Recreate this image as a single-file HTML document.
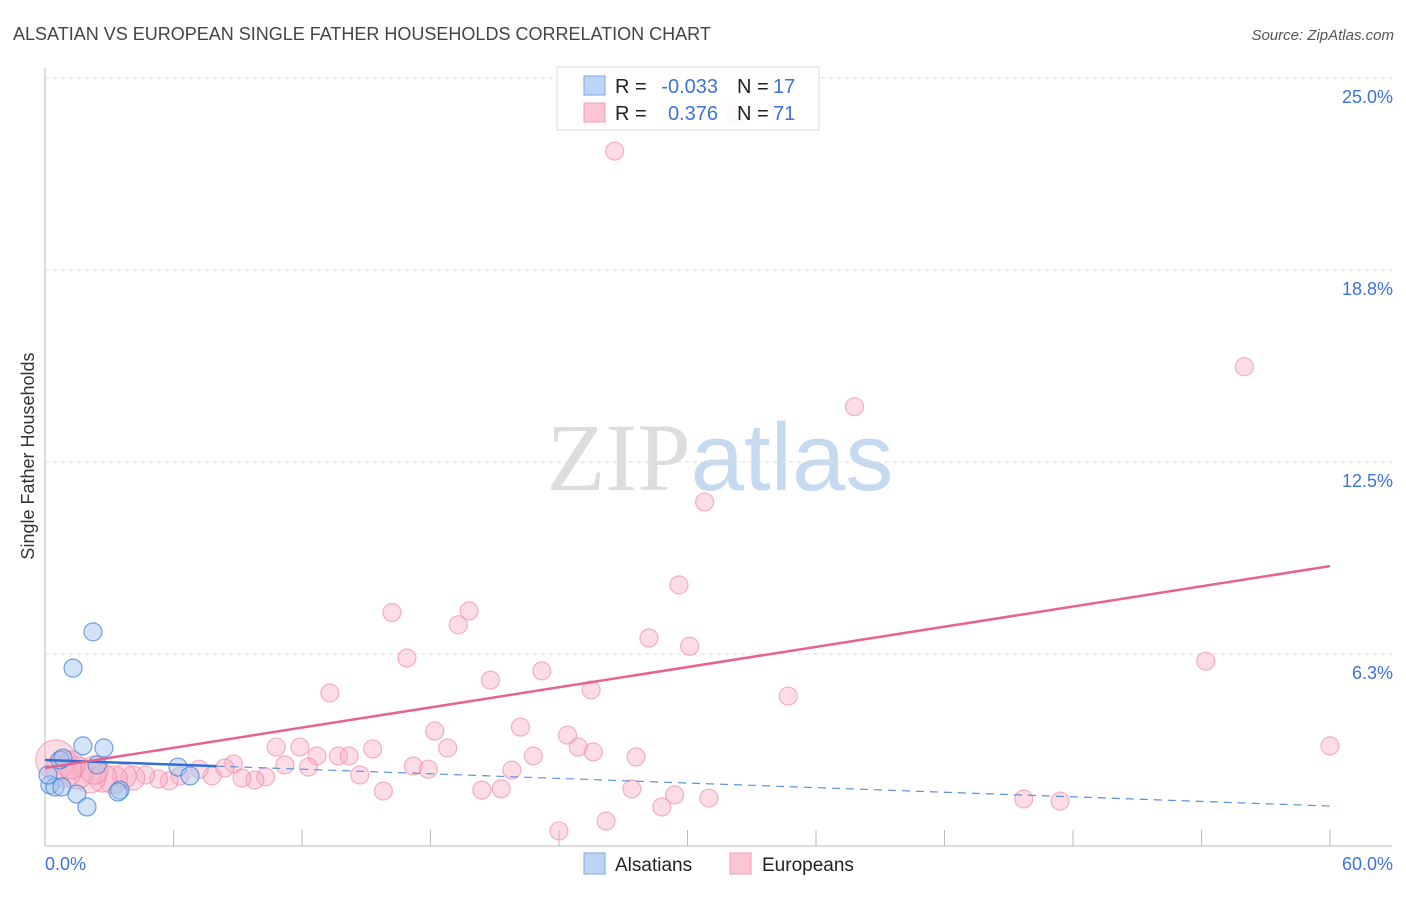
<!DOCTYPE html>
<html><head><meta charset="utf-8"><style>
body{margin:0;background:#fff;font-family:"Liberation Sans",sans-serif}
svg text{font-family:"Liberation Sans",sans-serif}
</style></head><body>
<svg id="chart" width="1406" height="892" viewBox="0 0 1406 892" xmlns="http://www.w3.org/2000/svg">
<text x="13" y="40" font-size="18" fill="#444">ALSATIAN VS EUROPEAN SINGLE FATHER HOUSEHOLDS CORRELATION CHART</text>
<text x="1394" y="40" font-size="15" fill="#555" text-anchor="end" font-style="italic">Source: ZipAtlas.com</text>
<text x="720" y="490" font-size="96" text-anchor="middle"><tspan fill="#ddd" font-family="Liberation Serif">ZIP</tspan><tspan fill="#c5daf0">atlas</tspan></text>
<g id="grid"></g>
<g id="axes"></g>
<g id="marks"></g>
<text transform="translate(34,456) rotate(-90)" font-size="18" fill="#333" text-anchor="middle">Single Father Households</text>
<g>
<rect x="557" y="67" width="262" height="63" fill="rgba(255,255,255,0.85)" stroke="#ddd"/>
<rect x="584" y="76" width="21" height="19" fill="#bcd5f5" stroke="#7aa8e6"/>
<rect x="584" y="103" width="21" height="19" fill="#fcc5d4" stroke="#f29ab3"/>
<text x="615" y="93" font-size="20" fill="#222">R =</text>
<text x="718" y="93" font-size="20" fill="#3f72d6" text-anchor="end">-0.033</text>
<text x="737" y="93" font-size="20" fill="#222">N =</text>
<text x="773" y="93" font-size="20" fill="#3f72d6">17</text>
<text x="615" y="120" font-size="20" fill="#222">R =</text>
<text x="718" y="120" font-size="20" fill="#3f72d6" text-anchor="end">0.376</text>
<text x="737" y="120" font-size="20" fill="#222">N =</text>
<text x="773" y="120" font-size="20" fill="#3f72d6">71</text>
</g>
<g>
<rect x="584" y="853" width="21" height="21" fill="#bcd5f5" stroke="#7aa8e6"/>
<text x="615" y="871" font-size="19" fill="#222">Alsatians</text>
<rect x="730" y="853" width="21" height="21" fill="#fcc5d4" stroke="#f29ab3"/>
<text x="762" y="871" font-size="19" fill="#222">Europeans</text>
</g>
</svg>
<script>
const yTicks=[25,18.75,12.5,6.25];
const yTickLabels=["25.0%","18.8%","12.5%","6.3%"];
const xTickVals=[6,12,18,24,30,36,42,48,54,60];
const blueX=[2.24,1.31,1.77,2.75,0.70,0.84,0.23,0.47,0.79,1.49,1.96,3.50,3.41,2.43,6.21,6.77,0.14];
const blueY=[6.97,5.79,3.26,3.19,2.80,2.86,1.99,1.92,1.92,1.69,1.27,1.82,1.76,2.64,2.57,2.28,2.31];
const pinkX=[26.6,32.2,56.0,37.8,30.8,29.6,16.2,19.8,19.3,28.2,30.1,16.9,54.2,23.2,20.8,13.3,25.5,34.7,22.2,18.2,24.4,60.0,10.8,11.9,18.8,24.9,25.6,15.3,27.6,12.7,13.7,14.2,22.8,8.8,11.2,12.3,17.2,17.9,21.8,8.4,14.7,10.3,9.8,9.2,7.8,7.2,6.3,5.8,5.3,4.7,4.1,3.7,3.2,2.7,2.1,1.5,0.9,0.5,15.8,20.4,21.3,27.4,29.4,31.0,28.8,45.7,47.4,24.0,26.2,2.3,1.2];
const pinkY=[22.62,23.8,15.6,14.3,11.2,8.5,7.6,7.65,7.2,6.77,6.5,6.12,6.02,5.7,5.4,4.98,5.08,4.88,3.87,3.74,3.61,3.26,3.22,3.22,3.19,3.22,3.06,3.16,2.9,2.93,2.93,2.93,2.93,2.67,2.64,2.57,2.6,2.5,2.47,2.54,2.31,2.25,2.15,2.21,2.28,2.5,2.28,2.12,2.18,2.31,2.21,2.28,2.15,2.21,2.25,2.38,2.5,2.8,1.79,1.82,1.86,1.86,1.66,1.56,1.27,1.53,1.46,0.49,0.81,2.47,2.64];
const pinkSize=[9,9,9,9,9,9,9,9,9,9,9,9,9,9,9,9,9,9,9,9,9,9,9,9,9,9,9,9,9,9,9,9,9,9,9,9,9,9,9,9,9,9,9,9,9,9,9,9,9,9,12,12,14,14,16,16,18,20,9,9,9,9,9,9,9,9,9,9,9,14,14];
const blueTrend=[2.8,1.3];
const pinkTrend=[2.54,9.11];
const NS="http://www.w3.org/2000/svg";
const X=v=>45+v*(1285/60), Y=v=>846-v*30.72;
function mk(parent,tag,attrs){const e=document.createElementNS(NS,tag);for(const k in attrs)e.setAttribute(k,attrs[k]);document.getElementById(parent).appendChild(e);return e;}
yTicks.forEach((t,i)=>{
 const l=mk('grid','line',{x1:45,x2:1392,y1:Y(t),y2:Y(t),stroke:'#ddd','stroke-dasharray':'4,4'});
 
 
 const tx=mk('grid','text',{x:1393,y:Y(t)+25,'font-size':18,fill:'#3f72d6','text-anchor':'end'});
 tx.textContent=yTickLabels[i];
 
 
});
let a=mk('axes','line',{x1:45,x2:45,y1:68,y2:846,stroke:'#bbb'});

a=mk('axes','line',{x1:45,x2:1392,y1:846,y2:846,stroke:'#bbb'});

xTickVals.forEach(t=>{const l=mk('axes','line',{x1:X(t),x2:X(t),y1:830,y2:846,stroke:'#bbb'});
 
 });
let t0=mk('axes','text',{x:45,y:870,'font-size':18,fill:'#3f72d6'});t0.textContent='0.0%';

let t1=mk('axes','text',{x:1393,y:870,'font-size':18,fill:'#3f72d6','text-anchor':'end'});t1.textContent='60.0%';

pinkX.forEach((x,i)=>{const c=mk('marks','circle',{cx:X(x),cy:Y(pinkY[i]),r:pinkSize[i],fill:'rgba(248,170,193,0.4)',stroke:'rgba(238,130,165,0.6)','stroke-width':1.2});
 
 });
blueX.forEach((x,i)=>{const c=mk('marks','circle',{cx:X(x),cy:Y(blueY[i]),r:9,fill:'rgba(160,195,240,0.45)',stroke:'rgba(70,130,215,0.75)','stroke-width':1.2});
 
 });
const bAt=v=>blueTrend[0]+(blueTrend[1]-blueTrend[0])*v/60;
let bl=mk('marks','line',{x1:X(0),y1:Y(bAt(0)),x2:X(8),y2:Y(bAt(8)),stroke:'#2f6fd6','stroke-width':2.5});

bl=mk('marks','line',{x1:X(8),y1:Y(bAt(8)),x2:X(60),y2:Y(bAt(60)),stroke:'#5b8fdf','stroke-width':1.2,'stroke-dasharray':'8,6'});

const pl=mk('marks','line',{x1:X(0),y1:Y(pinkTrend[0]),x2:X(60),y2:Y(pinkTrend[1]),stroke:'#e8628e','stroke-width':2.5});

</script>
</body></html>
